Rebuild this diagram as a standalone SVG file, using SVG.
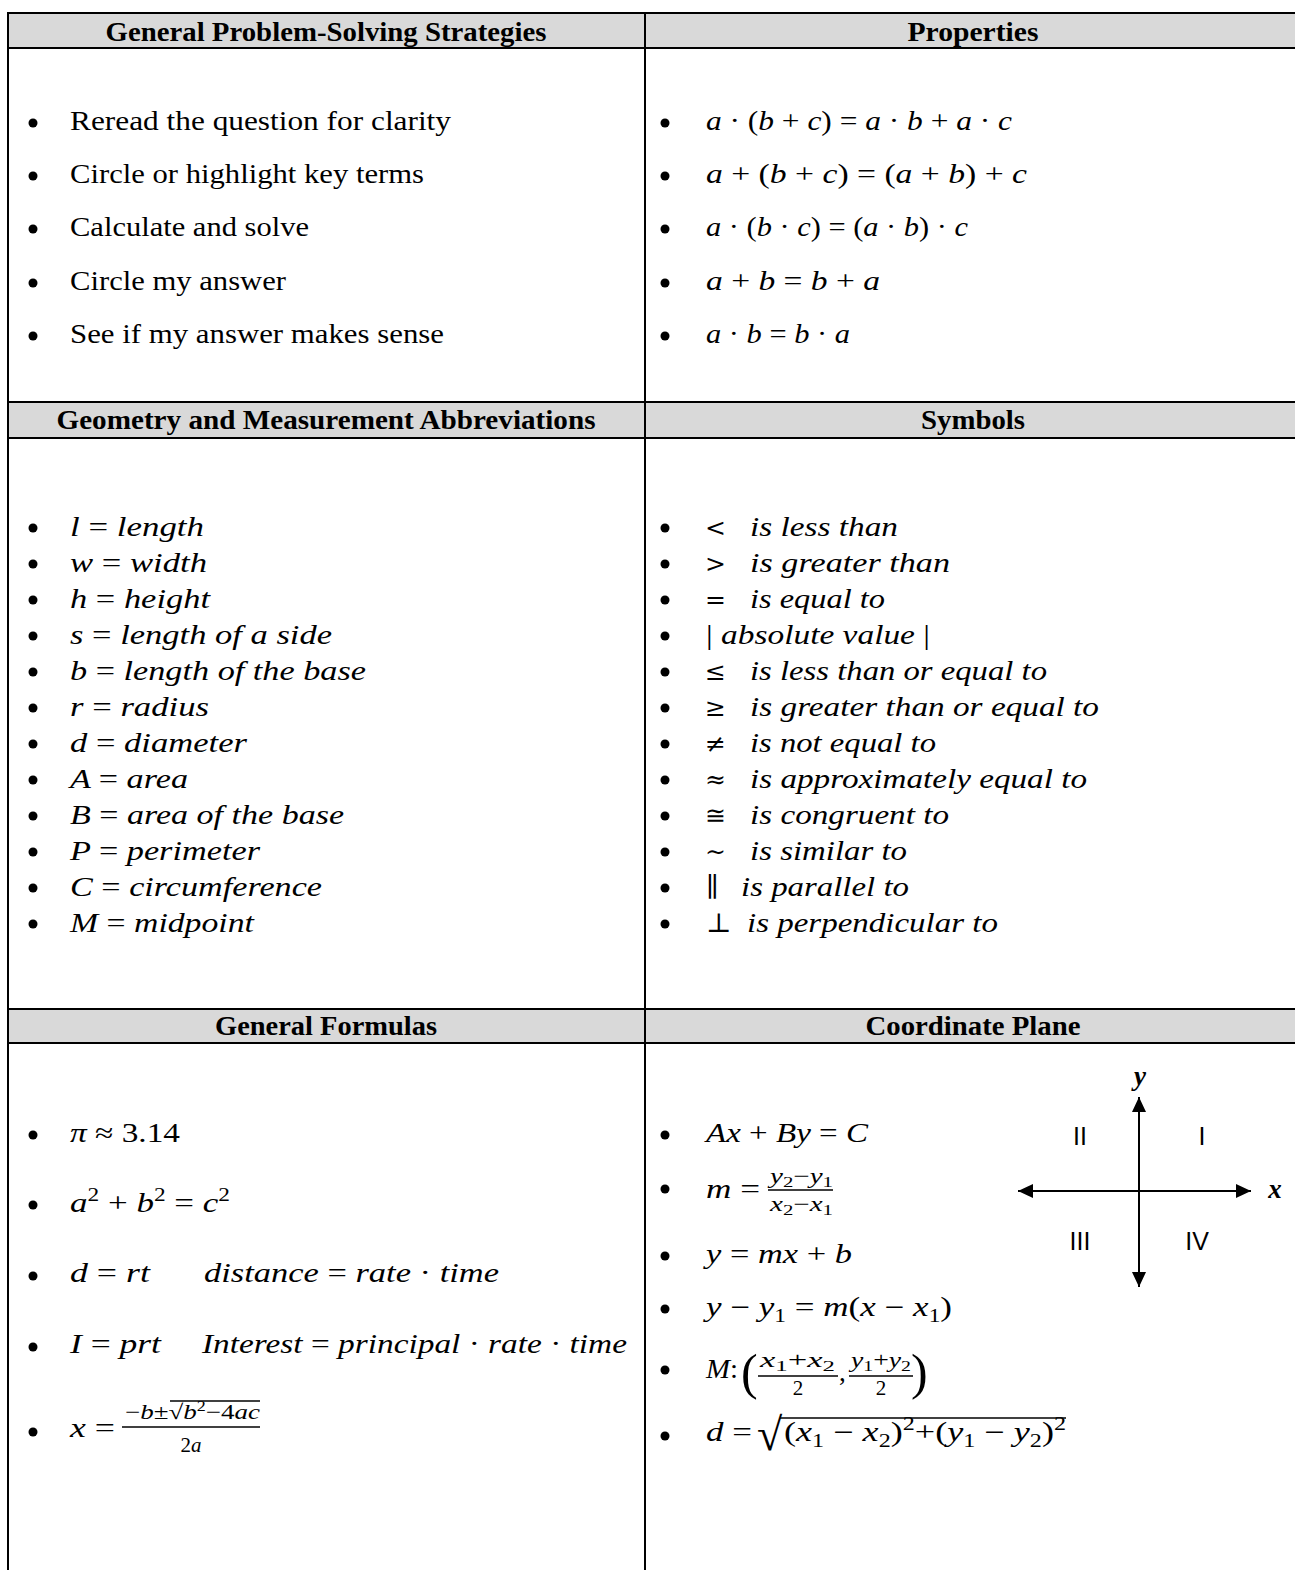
<svg xmlns="http://www.w3.org/2000/svg" width="1295" height="1570" viewBox="0 0 1295 1570">
<style>
.h{font-family:"Liberation Serif","DejaVu Serif",serif;font-weight:bold;font-size:27px;text-anchor:middle;fill:#000}
.t{font-family:"Liberation Serif","DejaVu Serif",serif;font-size:27px;fill:#000}
.sym{font-family:"DejaVu Serif","Liberation Serif",serif;font-size:25px;fill:#000}
.m{font-family:"Liberation Serif","DejaVu Serif",serif;font-style:italic;font-size:27px;fill:#000}
.u{font-style:normal}
.s{font-size:18px}
.f{font-family:"Liberation Serif","DejaVu Serif",serif;font-style:italic;font-size:21px;fill:#000}
.q{font-family:"Liberation Sans",Arial,sans-serif;font-size:25px;fill:#000;text-anchor:middle}
.grid{stroke:#000;stroke-width:2;fill:none}
.band{fill:#d9d9d9}
.b{fill:#000}
.ax{stroke:#000;stroke-width:2;fill:none}
.bar{stroke:#000;stroke-width:1.5}
</style>
<defs>
<marker id="ah" viewBox="0 0 15 14" refX="15" refY="7" markerWidth="15" markerHeight="14" markerUnits="userSpaceOnUse" orient="auto-start-reverse">
<path d="M0,0 L15,7 L0,14 Z" fill="#000"/>
</marker>
</defs>
<rect width="1295" height="1570" fill="#fff"/>

<g id="grid">
<rect class="band" x="8" y="13" width="1287" height="35"/>
<rect class="band" x="8" y="402" width="1287" height="36"/>
<rect class="band" x="8" y="1009" width="1287" height="34"/>
<line class="grid" x1="7" y1="13" x2="1295" y2="13"/>
<line class="grid" x1="7" y1="48" x2="1295" y2="48"/>
<line class="grid" x1="7" y1="402" x2="1295" y2="402"/>
<line class="grid" x1="7" y1="438" x2="1295" y2="438"/>
<line class="grid" x1="7" y1="1009" x2="1295" y2="1009"/>
<line class="grid" x1="7" y1="1043" x2="1295" y2="1043"/>
<line class="grid" x1="8" y1="12" x2="8" y2="1570"/>
<line class="grid" x1="645" y1="12" x2="645" y2="1570"/>
</g>

<g id="strategies">
<text class="h" x="326" y="41" textLength="441" lengthAdjust="spacingAndGlyphs">General Problem-Solving Strategies</text>
<circle class="b" cx="33" cy="123" r="4.5"/>
<circle class="b" cx="33" cy="176" r="4.5"/>
<circle class="b" cx="33" cy="229" r="4.5"/>
<circle class="b" cx="33" cy="283" r="4.5"/>
<circle class="b" cx="33" cy="336" r="4.5"/>
<text class="t" x="70" y="130" textLength="381" lengthAdjust="spacingAndGlyphs">Reread the question for clarity</text>
<text class="t" x="70" y="183" textLength="354" lengthAdjust="spacingAndGlyphs">Circle or highlight key terms</text>
<text class="t" x="70" y="236" textLength="239" lengthAdjust="spacingAndGlyphs">Calculate and solve</text>
<text class="t" x="70" y="290" textLength="216" lengthAdjust="spacingAndGlyphs">Circle my answer</text>
<text class="t" x="70" y="343" textLength="374" lengthAdjust="spacingAndGlyphs">See if my answer makes sense</text>
</g>

<g id="properties">
<text class="h" x="973" y="41" textLength="131" lengthAdjust="spacingAndGlyphs">Properties</text>
<circle class="b" cx="665" cy="123" r="4.5"/>
<circle class="b" cx="665" cy="176" r="4.5"/>
<circle class="b" cx="665" cy="229" r="4.5"/>
<circle class="b" cx="665" cy="283" r="4.5"/>
<circle class="b" cx="665" cy="336" r="4.5"/>
<text class="m" x="706" y="130" textLength="306" lengthAdjust="spacingAndGlyphs">a<tspan class="u"> · (</tspan>b<tspan class="u"> + </tspan>c<tspan class="u">) = </tspan>a<tspan class="u"> · </tspan>b<tspan class="u"> + </tspan>a<tspan class="u"> · </tspan>c</text>
<text class="m" x="706" y="183" textLength="321" lengthAdjust="spacingAndGlyphs">a<tspan class="u"> + (</tspan>b<tspan class="u"> + </tspan>c<tspan class="u">) = (</tspan>a<tspan class="u"> + </tspan>b<tspan class="u">) + </tspan>c</text>
<text class="m" x="706" y="236" textLength="262" lengthAdjust="spacingAndGlyphs">a<tspan class="u"> · (</tspan>b<tspan class="u"> · </tspan>c<tspan class="u">) = (</tspan>a<tspan class="u"> · </tspan>b<tspan class="u">) · </tspan>c</text>
<text class="m" x="706" y="290" textLength="174" lengthAdjust="spacingAndGlyphs">a<tspan class="u"> + </tspan>b<tspan class="u"> = </tspan>b<tspan class="u"> + </tspan>a</text>
<text class="m" x="706" y="343" textLength="144" lengthAdjust="spacingAndGlyphs">a<tspan class="u"> · </tspan>b<tspan class="u"> = </tspan>b<tspan class="u"> · </tspan>a</text>
</g>

<g id="abbreviations">
<text class="h" x="326" y="429" textLength="539" lengthAdjust="spacingAndGlyphs">Geometry and Measurement Abbreviations</text>
<g class="b">
<circle cx="33" cy="528" r="4.5"/><circle cx="33" cy="564" r="4.5"/><circle cx="33" cy="600" r="4.5"/><circle cx="33" cy="636" r="4.5"/>
<circle cx="33" cy="672" r="4.5"/><circle cx="33" cy="708" r="4.5"/><circle cx="33" cy="744" r="4.5"/><circle cx="33" cy="780" r="4.5"/>
<circle cx="33" cy="816" r="4.5"/><circle cx="33" cy="852" r="4.5"/><circle cx="33" cy="888" r="4.5"/><circle cx="33" cy="924" r="4.5"/>
</g>
<text class="m" x="70" y="536" textLength="134" lengthAdjust="spacingAndGlyphs">l <tspan class="u">=</tspan> length</text>
<text class="m" x="70" y="572" textLength="137" lengthAdjust="spacingAndGlyphs">w <tspan class="u">=</tspan> width</text>
<text class="m" x="70" y="608" textLength="140" lengthAdjust="spacingAndGlyphs">h <tspan class="u">=</tspan> height</text>
<text class="m" x="70" y="644" textLength="262" lengthAdjust="spacingAndGlyphs">s <tspan class="u">=</tspan> length of a side</text>
<text class="m" x="70" y="680" textLength="296" lengthAdjust="spacingAndGlyphs">b <tspan class="u">=</tspan> length of the base</text>
<text class="m" x="70" y="716" textLength="139" lengthAdjust="spacingAndGlyphs">r <tspan class="u">=</tspan> radius</text>
<text class="m" x="70" y="752" textLength="177" lengthAdjust="spacingAndGlyphs">d <tspan class="u">=</tspan> diameter</text>
<text class="m" x="70" y="788" textLength="118" lengthAdjust="spacingAndGlyphs">A <tspan class="u">=</tspan> area</text>
<text class="m" x="70" y="824" textLength="274" lengthAdjust="spacingAndGlyphs">B <tspan class="u">=</tspan> area of the base</text>
<text class="m" x="70" y="860" textLength="190" lengthAdjust="spacingAndGlyphs">P <tspan class="u">=</tspan> perimeter</text>
<text class="m" x="70" y="896" textLength="252" lengthAdjust="spacingAndGlyphs">C <tspan class="u">=</tspan> circumference</text>
<text class="m" x="70" y="932" textLength="184" lengthAdjust="spacingAndGlyphs">M <tspan class="u">=</tspan> midpoint</text>
</g>

<g id="symbols">
<text class="h" x="973" y="429" textLength="104" lengthAdjust="spacingAndGlyphs">Symbols</text>
<g class="b">
<circle cx="665" cy="528" r="4.5"/><circle cx="665" cy="564" r="4.5"/><circle cx="665" cy="600" r="4.5"/><circle cx="665" cy="636" r="4.5"/>
<circle cx="665" cy="672" r="4.5"/><circle cx="665" cy="708" r="4.5"/><circle cx="665" cy="744" r="4.5"/><circle cx="665" cy="780" r="4.5"/>
<circle cx="665" cy="816" r="4.5"/><circle cx="665" cy="852" r="4.5"/><circle cx="665" cy="888" r="4.5"/><circle cx="665" cy="924" r="4.5"/>
</g>
<text class="sym" x="705" y="536">&lt;</text><text class="m" x="750" y="536" textLength="148" lengthAdjust="spacingAndGlyphs">is less than</text>
<text class="sym" x="705" y="572">&gt;</text><text class="m" x="750" y="572" textLength="200" lengthAdjust="spacingAndGlyphs">is greater than</text>
<text class="sym" x="705" y="608">=</text><text class="m" x="750" y="608" textLength="135" lengthAdjust="spacingAndGlyphs">is equal to</text>
<text class="m" x="706" y="644" textLength="224" lengthAdjust="spacingAndGlyphs"><tspan class="u">|</tspan> absolute value <tspan class="u">|</tspan></text>
<text class="sym" x="705" y="680">≤</text><text class="m" x="750" y="680" textLength="297" lengthAdjust="spacingAndGlyphs">is less than or equal to</text>
<text class="sym" x="705" y="716">≥</text><text class="m" x="750" y="716" textLength="349" lengthAdjust="spacingAndGlyphs">is greater than or equal to</text>
<text class="sym" x="705" y="752">≠</text><text class="m" x="750" y="752" textLength="186" lengthAdjust="spacingAndGlyphs">is not equal to</text>
<text class="sym" x="705" y="788">≈</text><text class="m" x="750" y="788" textLength="337" lengthAdjust="spacingAndGlyphs">is approximately equal to</text>
<text class="sym" x="705" y="824">≅</text><text class="m" x="750" y="824" textLength="199" lengthAdjust="spacingAndGlyphs">is congruent to</text>
<text class="sym" x="705" y="860">∼</text><text class="m" x="750" y="860" textLength="157" lengthAdjust="spacingAndGlyphs">is similar to</text>
<text class="t" x="706" y="896">∥</text><text class="m" x="741" y="896" textLength="168" lengthAdjust="spacingAndGlyphs">is parallel to</text>
<text class="t" x="706" y="932">⊥</text><text class="m" x="747" y="932" textLength="251" lengthAdjust="spacingAndGlyphs">is perpendicular to</text>
</g>

<g id="formulas">
<text class="h" x="326" y="1035" textLength="222" lengthAdjust="spacingAndGlyphs">General Formulas</text>
<g class="b">
<circle cx="33" cy="1135" r="4.5"/><circle cx="33" cy="1205" r="4.5"/><circle cx="33" cy="1276" r="4.5"/><circle cx="33" cy="1347" r="4.5"/><circle cx="33" cy="1432" r="4.5"/>
</g>
<text class="m" x="70" y="1142" textLength="110" lengthAdjust="spacingAndGlyphs">π <tspan class="u">≈ 3.14</tspan></text>
<text class="m" x="70" y="1212" textLength="160" lengthAdjust="spacingAndGlyphs">a<tspan class="u s" dy="-11">2</tspan><tspan class="u" dy="11"> + </tspan>b<tspan class="u s" dy="-11">2</tspan><tspan class="u" dy="11">  = </tspan>c<tspan class="u s" dy="-11">2</tspan></text>
<text class="m" x="70" y="1282" textLength="80" lengthAdjust="spacingAndGlyphs">d <tspan class="u">=</tspan> rt</text>
<text class="m" x="204" y="1282" textLength="295" lengthAdjust="spacingAndGlyphs">distance <tspan class="u">=</tspan> rate <tspan class="u"> ·</tspan> time</text>
<text class="m" x="70" y="1353" textLength="91" lengthAdjust="spacingAndGlyphs">I <tspan class="u">=</tspan> prt</text>
<text class="m" x="202" y="1353" textLength="425" lengthAdjust="spacingAndGlyphs">Interest <tspan class="u">=</tspan> principal <tspan class="u">·</tspan> rate <tspan class="u">·</tspan> time</text>
<text class="m" x="70" y="1437" textLength="45" lengthAdjust="spacingAndGlyphs">x <tspan class="u">=</tspan></text>
<text class="f" x="125" y="1419" textLength="135" lengthAdjust="spacingAndGlyphs"><tspan class="u">−</tspan>b<tspan class="u">±√</tspan>b<tspan class="u" font-size="14" dy="-8">2</tspan><tspan class="u" dy="8">−4</tspan>ac</text>
<line class="bar" x1="170" y1="1401" x2="260" y2="1401" stroke-width="1.2"/>
<line class="bar" x1="122" y1="1427" x2="260" y2="1427"/>
<text class="f" x="191" y="1452" text-anchor="middle"><tspan class="u">2</tspan>a</text>
</g>

<g id="coordinate-plane">
<text class="h" x="973" y="1035" textLength="215" lengthAdjust="spacingAndGlyphs">Coordinate Plane</text>
<g class="b">
<circle cx="665" cy="1135" r="4.5"/><circle cx="665" cy="1189" r="4.5"/><circle cx="665" cy="1256" r="4.5"/><circle cx="665" cy="1309" r="4.5"/><circle cx="665" cy="1370" r="4.5"/><circle cx="665" cy="1436" r="4.5"/>
</g>
<text class="m" x="706" y="1142" textLength="162" lengthAdjust="spacingAndGlyphs">Ax <tspan class="u">+</tspan> By <tspan class="u">=</tspan> C</text>
<text class="m" x="706" y="1198" textLength="54" lengthAdjust="spacingAndGlyphs">m <tspan class="u">=</tspan></text>
<text class="f" x="770" y="1183" textLength="63" lengthAdjust="spacingAndGlyphs">y<tspan class="u" font-size="15" dy="4">2</tspan><tspan class="u" dy="-4">−</tspan>y<tspan class="u" font-size="15" dy="4">1</tspan></text>
<line class="bar" x1="768" y1="1190" x2="833" y2="1190"/>
<text class="f" x="770" y="1211" textLength="63" lengthAdjust="spacingAndGlyphs">x<tspan class="u" font-size="15" dy="4">2</tspan><tspan class="u" dy="-4">−</tspan>x<tspan class="u" font-size="15" dy="4">1</tspan></text>
<text class="m" x="706" y="1263" textLength="146" lengthAdjust="spacingAndGlyphs">y <tspan class="u">=</tspan> mx <tspan class="u">+</tspan> b</text>
<text class="m" x="706" y="1316" textLength="246" lengthAdjust="spacingAndGlyphs">y <tspan class="u">−</tspan> y<tspan class="u s" dy="6">1</tspan><tspan class="u" dy="-6"> = </tspan>m<tspan class="u">(</tspan>x <tspan class="u">−</tspan> x<tspan class="u s" dy="6">1</tspan><tspan class="u" dy="-6">)</tspan></text>
<text class="m" x="706" y="1378" textLength="32" lengthAdjust="spacingAndGlyphs">M<tspan class="u">:</tspan></text>
<text class="t" x="741" y="1389" style="font-size:50px">(</text>
<text class="f" x="760" y="1367" textLength="75" lengthAdjust="spacingAndGlyphs">x<tspan class="u" font-size="15" dy="4">1</tspan><tspan class="u" dy="-4">+</tspan>x<tspan class="u" font-size="15" dy="4">2</tspan></text>
<line class="bar" x1="758" y1="1376" x2="838" y2="1376"/>
<text class="f" x="798" y="1395" text-anchor="middle"><tspan class="u">2</tspan></text>
<text class="t" x="839" y="1381">,</text>
<text class="f" x="851" y="1367" textLength="60" lengthAdjust="spacingAndGlyphs">y<tspan class="u" font-size="15" dy="4">1</tspan><tspan class="u" dy="-4">+</tspan>y<tspan class="u" font-size="15" dy="4">2</tspan></text>
<line class="bar" x1="849" y1="1376" x2="913" y2="1376"/>
<text class="f" x="881" y="1395" text-anchor="middle"><tspan class="u">2</tspan></text>
<text class="t" x="911" y="1389" style="font-size:50px">)</text>
<text class="m" x="706" y="1441" textLength="46" lengthAdjust="spacingAndGlyphs">d <tspan class="u">=</tspan></text>
<text class="t" x="757" y="1450" style="font-size:46px">√</text>
<line class="bar" x1="780" y1="1418" x2="1066" y2="1418"/>
<text class="m" x="784" y="1441" textLength="282" lengthAdjust="spacingAndGlyphs"><tspan class="u">(</tspan>x<tspan class="u s" dy="6">1</tspan><tspan class="u" dy="-6"> − </tspan>x<tspan class="u s" dy="6">2</tspan><tspan class="u" dy="-6">)</tspan><tspan class="u s" dy="-11">2</tspan><tspan class="u" dy="11">+(</tspan>y<tspan class="u s" dy="6">1</tspan><tspan class="u" dy="-6"> − </tspan>y<tspan class="u s" dy="6">2</tspan><tspan class="u" dy="-6">)</tspan><tspan class="u s" dy="-11">2</tspan></text>

<g id="axes">
<line class="ax" x1="1139" y1="1097" x2="1139" y2="1287" marker-start="url(#ah)" marker-end="url(#ah)"/>
<line class="ax" x1="1018" y1="1191" x2="1251" y2="1191" marker-start="url(#ah)" marker-end="url(#ah)"/>
<text class="m" x="1140" y="1085" font-weight="bold" text-anchor="middle">y</text>
<text class="m" x="1275" y="1198" font-weight="bold" text-anchor="middle">x</text>
<text class="q" x="1080" y="1145">II</text>
<text class="q" x="1202" y="1145">I</text>
<text class="q" x="1080" y="1250">III</text>
<text class="q" x="1197" y="1250">IV</text>
</g>
</g>
</svg>
